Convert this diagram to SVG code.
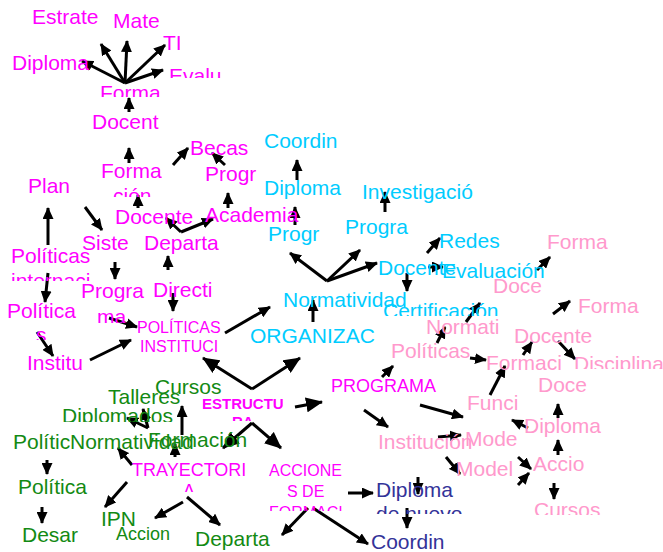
<svg xmlns="http://www.w3.org/2000/svg" width="663" height="552" viewBox="0 0 663 552">
<style>
text{font-family:"Liberation Sans",Arial,sans-serif;font-size:21px}
.m{fill:#FF00FF}.c{fill:#00CCFF}.g{fill:#138A13}.p{fill:#FF99CC}.n{fill:#333399}
.s16{font-size:16px}.s18{font-size:18px}.b{font-weight:bold;font-size:15px}
#edges line{stroke:#000;stroke-width:3;fill:none}
.a{marker-end:url(#ah)}.A{marker-end:url(#AH)}
</style>
<defs>
<marker id="ah" markerUnits="userSpaceOnUse" markerWidth="12" markerHeight="11" refX="11" refY="5.5" orient="auto"><path d="M0,0 L12,5.5 L0,11 z" fill="#000"/></marker>
<marker id="AH" markerUnits="userSpaceOnUse" markerWidth="17" markerHeight="15" refX="16" refY="7.5" orient="auto"><path d="M0,0 L17,7.5 L0,15 z" fill="#000"/></marker>
<clipPath id="cEv"><rect x="160" y="55" width="62" height="23"/></clipPath>
<clipPath id="cFo"><rect x="90" y="75" width="80" height="22"/></clipPath>
<clipPath id="cFo2"><rect x="90" y="185" width="80" height="12"/></clipPath>
<clipPath id="cPi"><rect x="0" y="265" width="110" height="16"/></clipPath>
<clipPath id="cPm"><rect x="80" y="305" width="60" height="18"/></clipPath>
<clipPath id="cPs"><rect x="20" y="325" width="40" height="15"/></clipPath>
<clipPath id="cER"><rect x="220" y="410" width="50" height="11"/></clipPath>
<clipPath id="cTA"><rect x="170" y="480" width="40" height="12"/></clipPath>
<clipPath id="cAF"><rect x="260" y="500" width="90" height="11"/></clipPath>
<clipPath id="cDn"><rect x="370" y="500" width="110" height="14"/></clipPath>
<clipPath id="cCe"><rect x="370" y="290" width="140" height="26"/></clipPath>
<clipPath id="cDi"><rect x="565" y="345" width="98" height="24"/></clipPath>
<clipPath id="cCu"><rect x="525" y="490" width="90" height="25"/></clipPath>
<clipPath id="cDm"><rect x="55" y="400" width="130" height="22"/></clipPath>
</defs>

<g id="edges">
<line class="a" x1="125" y1="83" x2="82" y2="61"/>
<line class="a" x1="125" y1="83" x2="101" y2="44"/>
<line class="a" x1="125" y1="83" x2="127" y2="41"/>
<line class="a" x1="125" y1="83" x2="165" y2="45"/>
<line class="a" x1="125" y1="83" x2="163" y2="70"/>
<line class="a" x1="129" y1="112" x2="129" y2="98"/>
<line class="a" x1="129" y1="163" x2="129" y2="148"/>
<line class="a" x1="173" y1="165" x2="188" y2="148"/>
<line class="a" x1="225" y1="165" x2="212" y2="153"/>
<line class="a" x1="228" y1="208" x2="228" y2="193"/>
<line class="a" x1="138" y1="208" x2="138" y2="195"/>
<line class="a" x1="181" y1="232" x2="166" y2="218"/>
<line class="a" x1="181" y1="232" x2="213" y2="219"/>
<line class="a" x1="168" y1="270" x2="168" y2="256"/>
<line class="a" x1="173" y1="293" x2="173" y2="311"/>
<line class="a" x1="48" y1="245" x2="48" y2="208"/>
<line class="a" x1="48" y1="273" x2="45" y2="302"/>
<line class="a" x1="85" y1="207" x2="102" y2="230"/>
<line class="a" x1="115" y1="262" x2="115" y2="279"/>
<line class="a" x1="109" y1="318" x2="137" y2="327"/>
<line class="a" x1="37" y1="332" x2="53" y2="356"/>
<line class="a" x1="90" y1="360" x2="131" y2="340"/>
<line class="a" x1="225" y1="333" x2="270" y2="307"/>
<line class="a" x1="297" y1="180" x2="297" y2="160"/>
<line class="a" x1="295" y1="225" x2="295" y2="207"/>
<line class="a" x1="385" y1="212" x2="385" y2="192"/>
<line class="a" x1="327" y1="281" x2="290" y2="253"/>
<line class="a" x1="327" y1="281" x2="360" y2="250"/>
<line class="a" x1="327" y1="281" x2="377" y2="263"/>
<line class="a" x1="313" y1="322" x2="313" y2="300"/>
<line class="a" x1="427" y1="253" x2="440" y2="238"/>
<line class="a" x1="428" y1="267" x2="443" y2="267"/>
<line class="a" x1="407" y1="273" x2="407" y2="291"/>
<line class="a" x1="466" y1="322" x2="480" y2="303"/>
<line class="a" x1="437" y1="343" x2="445" y2="327"/>
<line class="a" x1="537" y1="270" x2="550" y2="257"/>
<line class="a" x1="553" y1="314" x2="570" y2="301"/>
<line class="a" x1="558" y1="341" x2="575" y2="359"/>
<line class="a" x1="523" y1="355" x2="532" y2="342"/>
<line class="a" x1="470" y1="358" x2="486" y2="360"/>
<line class="a" x1="490" y1="395" x2="505" y2="366"/>
<line class="A" x1="252" y1="389" x2="203" y2="358"/>
<line class="A" x1="252" y1="389" x2="300" y2="358"/>
<line class="A" x1="295" y1="407" x2="322" y2="402"/>
<line class="a" x1="382" y1="377" x2="393" y2="366"/>
<line class="A" x1="252" y1="423" x2="223" y2="448"/>
<line class="A" x1="252" y1="423" x2="281" y2="448"/>
<line class="a" x1="364" y1="410" x2="388" y2="427"/>
<line class="a" x1="420" y1="405" x2="463" y2="417"/>
<line class="a" x1="438" y1="437" x2="461" y2="435"/>
<line class="a" x1="446" y1="457" x2="460" y2="474"/>
<line class="a" x1="348" y1="493" x2="373" y2="493"/>
<line class="a" x1="418" y1="477" x2="418" y2="494"/>
<line class="a" x1="407" y1="508" x2="407" y2="528"/>
<line class="a" x1="308" y1="508" x2="282" y2="535"/>
<line class="a" x1="313" y1="508" x2="368" y2="544"/>
<line class="a" x1="528" y1="428" x2="512" y2="420"/>
<line class="a" x1="558" y1="418" x2="558" y2="404"/>
<line class="a" x1="558" y1="455" x2="558" y2="440"/>
<line class="a" x1="518" y1="457" x2="531" y2="469"/>
<line class="a" x1="518" y1="485" x2="529" y2="473"/>
<line class="a" x1="554" y1="483" x2="554" y2="499"/>
<line class="a" x1="182" y1="435" x2="182" y2="406"/>
<line class="a" x1="148" y1="428" x2="143" y2="409"/>
<line class="a" x1="148" y1="428" x2="127" y2="418"/>
<line class="a" x1="175" y1="457" x2="175" y2="444"/>
<line class="a" x1="132" y1="465" x2="118" y2="448"/>
<line class="a" x1="47" y1="460" x2="47" y2="474"/>
<line class="a" x1="42" y1="507" x2="42" y2="523"/>
<line class="a" x1="127" y1="482" x2="105" y2="507"/>
<line class="a" x1="183" y1="502" x2="155" y2="518"/>
<line class="a" x1="187" y1="497" x2="220" y2="525"/>
</g>

<g id="estrate"><text class="m" x="32" y="24">Estrate</text></g>
<g id="mate"><text class="m" x="113" y="28">Mate</text></g>
<g id="ti"><text class="m" x="163" y="50">TI</text></g>
<g id="diploma1"><text class="m" x="12" y="70">Diploma</text></g>
<g id="evalu"><text class="m" x="169" y="83" clip-path="url(#cEv)">Evaluación</text></g>
<g id="forma1"><text class="m" x="100" y="100" clip-path="url(#cFo)">Forma</text></g>
<g id="docent1"><text class="m" x="92" y="129">Docent</text></g>
<g id="becas"><text class="m" x="190" y="155">Becas</text></g>
<g id="progr1"><text class="m" x="205" y="181">Progr</text></g>
<g id="forma2"><text class="m" x="101" y="178">Forma</text><text class="m" x="113" y="203" clip-path="url(#cFo2)">ción</text></g>
<g id="plan"><text class="m" x="28" y="193">Plan</text></g>
<g id="docente1"><text class="m" x="115" y="224">Docente</text></g>
<g id="academia"><text class="m" x="205" y="222">Academia</text></g>
<g id="siste"><text class="m" x="82" y="250">Siste</text></g>
<g id="departa1"><text class="m" x="144" y="250">Departa</text></g>
<g id="politicas1"><text class="m" x="11" y="263">Políticas</text><text class="m" x="11" y="288" clip-path="url(#cPi)">internaci</text></g>
<g id="progra1"><text class="m" x="81" y="298">Progra</text><text class="m" x="97" y="324" clip-path="url(#cPm)">ma</text></g>
<g id="directi"><text class="m" x="153" y="297">Directi</text></g>
<g id="politica1"><text class="m" x="7" y="318">Política</text><text class="m" x="36" y="342" clip-path="url(#cPs)">s</text></g>
<g id="politicasInst"><text class="m s16" x="137" y="333">POLÍTICAS</text><text class="m s16" x="140" y="352">INSTITUCI</text></g>
<g id="institu"><text class="m" x="27" y="370">Institu</text></g>

<g id="coordin1"><text class="c" x="264" y="148">Coordin</text></g>
<g id="diploma2"><text class="c" x="264" y="195">Diploma</text></g>
<g id="progr2"><text class="c" x="268" y="241">Progr</text></g>
<g id="progra2"><text class="c" x="345" y="234">Progra</text></g>
<g id="investigacion"><text class="c" x="362" y="199">Investigació</text></g>
<g id="redes"><text class="c" x="439" y="248">Redes</text></g>
<g id="docente2"><text class="c" x="378" y="275">Docente</text></g>
<g id="evaluacion"><text class="c" x="442" y="278">Evaluación</text></g>
<g id="normatividad1"><text class="c" x="283" y="307">Normatividad</text></g>
<g id="certificacion"><text class="c" x="383" y="318" clip-path="url(#cCe)">Certificación</text></g>
<g id="organizac"><text class="c" x="250" y="343">ORGANIZAC</text></g>

<g id="forma3"><text class="p" x="547" y="249">Forma</text></g>
<g id="doce1"><text class="p" x="493" y="293">Doce</text></g>
<g id="forma4"><text class="p" x="578" y="313">Forma</text></g>
<g id="normati"><text class="p" x="426" y="334">Normati</text></g>
<g id="docente3"><text class="p" x="514" y="343">Docente</text></g>
<g id="politicas2"><text class="p" x="391" y="358">Políticas</text></g>
<g id="formaci"><text class="p" x="486" y="370">Formaci</text></g>
<g id="disciplina"><text class="p" x="574" y="371" clip-path="url(#cDi)">Disciplina</text></g>
<g id="doce2"><text class="p" x="538" y="392">Doce</text></g>
<g id="funci"><text class="p" x="467" y="410">Funci</text></g>
<g id="diploma3"><text class="p" x="524" y="433">Diploma</text></g>
<g id="institucion"><text class="p" x="378" y="449">Institución</text></g>
<g id="mode"><text class="p" x="465" y="446">Mode</text></g>
<g id="model"><text class="p" x="456" y="476">Model</text></g>
<g id="accio"><text class="p" x="533" y="471">Accio</text></g>
<g id="cursos2"><text class="p" x="534" y="517" clip-path="url(#cCu)">Cursos</text></g>

<g id="diploma4"><text class="n" x="376" y="497">Diploma</text><text class="n" x="376" y="521" clip-path="url(#cDn)">de nuevo</text></g>
<g id="coordin2"><text class="n" x="371" y="549">Coordin</text></g>

<g id="estructura"><text class="m b" x="202" y="409">ESTRUCTU</text><text class="m b" x="232" y="427" clip-path="url(#cER)">RA</text></g>
<g id="programa"><text class="m s18" x="331" y="392">PROGRAMA</text></g>
<g id="trayectoria"><text class="m s18" x="132" y="476">TRAYECTORI</text><text class="m s18" x="183" y="497" clip-path="url(#cTA)">A</text></g>
<g id="acciones"><text class="m s16" x="269" y="476">ACCIONE</text><text class="m s16" x="287" y="497">S DE</text><text class="m s16" x="269" y="518" clip-path="url(#cAF)">FORMACI</text></g>

<g id="cursos1"><text class="g" x="155" y="394">Cursos</text></g>
<g id="talleres"><text class="g" x="108" y="404">Talleres</text></g>
<g id="diplomados"><text class="g" x="62" y="423" clip-path="url(#cDm)">Diplomados</text></g>
<g id="formacion"><text class="g" x="148" y="447">Formación</text></g>
<g id="normatividad2"><text class="g" x="70" y="449">Normatividad</text></g>
<g id="politic"><text class="g" x="13" y="449">Polític</text></g>
<g id="politica2"><text class="g" x="18" y="494">Política</text></g>
<g id="ipn"><text class="g" x="101" y="526">IPN</text></g>
<g id="accion"><text class="g s18" x="116" y="540">Accion</text></g>
<g id="desar"><text class="g" x="22" y="542">Desar</text></g>
<g id="departa2"><text class="g" x="195" y="546">Departa</text></g>
</svg>
